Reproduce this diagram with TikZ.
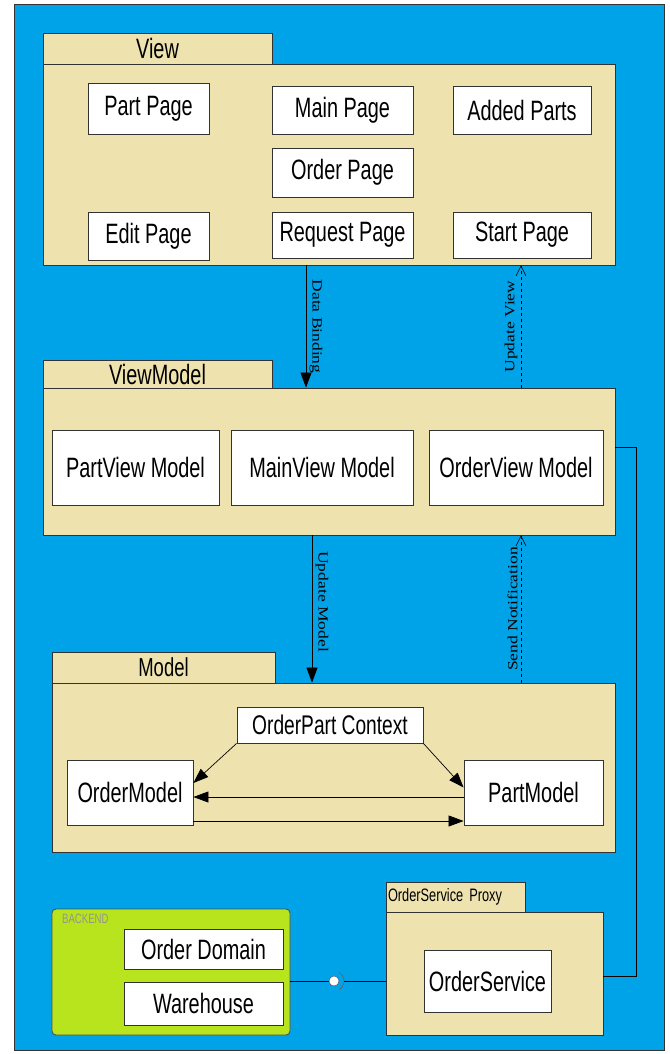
\documentclass[tikz,border=0pt]{standalone}
\usepackage{fontspec}
\setmainfont{Liberation Sans}[FakeStretch=0.71]
\newfontfamily\lblfont{Liberation Serif}
\usetikzlibrary{arrows.meta}
\definecolor{bgblue}{RGB}{0,162,232}
\definecolor{pkgtan}{RGB}{238,226,175}
\definecolor{backgreen}{RGB}{184,228,30}
\newcommand{\flatlbl}[1]{\scalebox{1}[0.8]{\lblfont #1}}

\begin{document}
\begin{tikzpicture}[x=1pt,y=-1pt,
    pkg/.style={draw=black!80,fill=pkgtan,line width=0.8pt},
    item/.style={draw=black!80,fill=white,line width=0.8pt,font=\fontsize{28}{30}\selectfont},
    flow/.style={line width=0.7pt,-{Triangle[length=15pt,width=11pt]}},
    notify/.style={line width=0.5pt,dashed,-{Straight Barb[length=10pt,width=10pt]}},
    lbl/.style={font=\fontsize{17.5}{20}\selectfont}]
    \fill[white] (0,0) rectangle (669,1054);
    \draw[fill=bgblue,draw=black!80,line width=0.8pt] (14,4) rectangle (664,1050);
    \node[pkg,minimum width=229,minimum height=31,font=\fontsize{28}{30}\selectfont] (viewtab) at (157.5,48.5) {View};
    \node[pkg,minimum width=572,minimum height=201] (viewbody) at (329,164.5) {};
    \node[item,minimum width=121,minimum height=51] (partpg) at (148.5,108.5) {Part Page};
    \node[item,minimum width=141,minimum height=48] (mainpg) at (342.5,110) {Main Page};
    \node[item,minimum width=138,minimum height=48] (addedpg) at (522,110) {Added Parts};
    \node[item,minimum width=141,minimum height=49] (orderpg) at (342.5,172.5) {Order Page};
    \node[item,minimum width=121,minimum height=48] (editpg) at (148.5,236) {Edit Page};
    \node[item,minimum width=141,minimum height=46] (requestpg) at (342.5,235) {Request Page};
    \node[item,minimum width=138,minimum height=46] (startpg) at (522,235) {Start Page};
    \node[pkg,minimum width=229,minimum height=28,font=\fontsize{28}{30}\selectfont] (vmtab) at (157.5,374) {ViewModel};
    \node[pkg,minimum width=572,minimum height=147] (vmbody) at (329,461.5) {};
    \node[item,minimum width=167,minimum height=75] (partvm) at (135.5,467.5) {PartView Model};
    \node[item,minimum width=182,minimum height=75] (mainvm) at (322,467.5) {MainView Model};
    \node[item,minimum width=174,minimum height=75] (ordervm) at (516,467.5) {OrderView Model};
    \node[pkg,minimum width=223,minimum height=31,font=\fontsize{26}{28}\selectfont] (modeltab) at (163.5,667.5) {Model};
    \node[pkg,minimum width=563,minimum height=169] (modelbody) at (333.5,767.5) {};
    \node[item,minimum width=186,minimum height=36,font=\fontsize{27}{28}\selectfont] (ctx) at (330,725) {OrderPart Context};
    \node[item,minimum width=126,minimum height=65] (om) at (130,792.5) {OrderModel};
    \node[item,minimum width=139,minimum height=65] (pm) at (533.5,792.5) {PartModel};
    \node[pkg,minimum width=139,minimum height=30,text width=135,inner sep=2pt,align=left,font=\fontsize{18}{20}\selectfont] (pxtab) at (455.5,897) {OrderService Proxy};
    \node[pkg,minimum width=217,minimum height=123] (pxbody) at (494.5,973.5) {};
    \node[item,minimum width=127,minimum height=62] (svc) at (487.5,981) {OrderService};
    \node[draw=black!70,fill=backgreen,line width=0.8pt,rounded corners=4pt,minimum width=238,minimum height=126] (backend) at (171,972) {};
    \node[anchor=north west,inner sep=0,text=black!42,font=\fontsize{13.5}{15}\selectfont] (backendlbl) at (62,914) {BACKEND};
    \node[item,minimum width=159,minimum height=40] (domain) at (203.5,949) {Order Domain};
    \node[item,minimum width=159,minimum height=43] (wh) at (203.5,1003.5) {Warehouse};
    \draw[flow] ([xshift=-23]viewbody.south) -- node[midway,rotate=-90,anchor=south,lbl] {\flatlbl{Data Binding}} ([xshift=-23]vmbody.north);
    \draw[notify] ([xshift=192]vmbody.north) -- node[midway,rotate=90,anchor=south,lbl] {\flatlbl{Update View}} ([xshift=192]viewbody.south);
    \draw[flow] ([xshift=-17]vmbody.south) -- node[pos=0.45,rotate=-90,anchor=south,lbl] {\flatlbl{Update Model}} ([xshift=-17]vmbody.south |- modelbody.north);
    \draw[notify] ([xshift=192]vmbody.south |- modelbody.north) -- node[midway,rotate=90,anchor=south,lbl] {\flatlbl{Send Notification}} ([xshift=192]vmbody.south);
    \draw[flow] (ctx.south west) -- ([yshift=9.5]om.east);
    \draw[flow] (ctx.south east) -- ([yshift=5]pm.west);
    \draw[flow] ([yshift=-4.5]pm.west) -- ([yshift=-4.5]om.east);
    \draw[flow] ([yshift=-28.5]om.east) -- ([yshift=-28.5]pm.west);
    \draw[line width=0.8pt] ([yshift=14.5]vmbody.east) -- ++(21,0) |- ([yshift=-3]pxbody.east);
    \node[circle,draw=black!70,fill=white,minimum size=10,inner sep=0] (ball) at (334,981) {};
    \draw[line width=0.8pt] (backend.east |- ball) -- (ball);
    \draw[black!60,line width=0.8pt] ([shift={(60:10)}]ball.center) arc[start angle=60,end angle=-60,radius=10];
    \draw[line width=0.8pt] ([xshift=10]ball.center) -- (pxbody.west |- ball);
\end{tikzpicture}
\end{document}
